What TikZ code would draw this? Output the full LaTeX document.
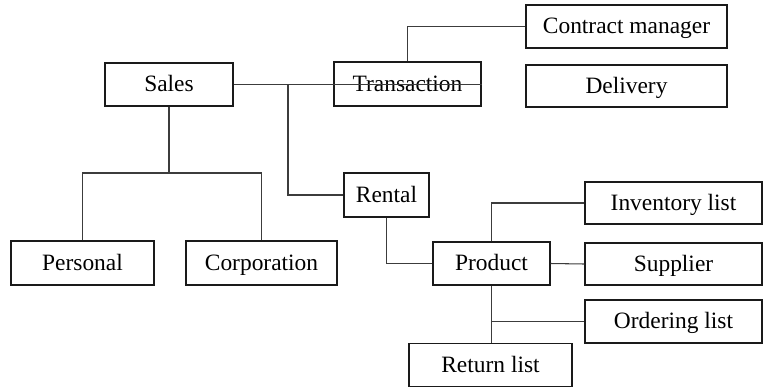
\documentclass[tikz,border=0pt]{standalone}
\usepackage{fontspec}
\setmainfont{Liberation Serif}
\usepackage{xcolor}
\usepackage{tikz}
\usetikzlibrary{positioning}
\definecolor{boxline}{HTML}{1A1A1A}
\definecolor{linkgray}{HTML}{3C3C3C}
\tikzset{
  entity/.style={rectangle,draw=boxline,line width=0.9pt,fill=white,align=center,minimum height=43*0.03cm,inner sep=0pt,text height=15pt,text depth=3pt,font=\fontsize{20}{24}\selectfont},
  wd/.style={minimum width=#1*0.03cm},
  link/.style={draw=linkgray,line width=0.9pt}
}
\begin{document}
\begin{tikzpicture}[x=0.03cm,y=-0.03cm]
\useasboundingbox (0,0) rectangle (763,387);
\node[entity,wd=128] (sales) at (169,84.5) {Sales};
\node[entity,wd=151,minimum height=44*0.03cm] (corporation) at (261.5,263) {Corporation};
\node[entity,wd=143,minimum height=44*0.03cm] (personal) at (82.5,263) {Personal};
\node[entity,wd=201] (contract) at (626.5,26.5) {Contract manager};
\node[entity,wd=201,minimum height=42*0.03cm] (delivery) at (626.5,86) {Delivery};
\node[entity,wd=85,minimum height=44*0.03cm] (rental) at (386.5,195) {Rental};
\node[entity,wd=117] (product) at (491.5,263.5) {Product};
\node[entity,wd=177,minimum height=42*0.03cm] (inventory) at (673.5,203) {Inventory list};
\node[entity,wd=177,minimum height=42*0.03cm] (supplier) at (673.5,264) {Supplier};
\node[entity,wd=177] (ordering) at (673.5,321.5) {Ordering list};
\node[entity,wd=163] (returnlist) at (490.5,365) {Return list};
\node[entity,wd=147,minimum height=44*0.03cm,fill=none] (transaction) at (407.5,84) {Transaction};
\coordinate (salesjoin) at (169,173);
\coordinate (rentaljoin) at (288,84.5);
\draw[link] (sales.east) -- (sales.east -| transaction.east);
\draw[link] (rentaljoin) |- (rental.west);
\draw[link] (transaction.north) |- (contract.west);
\draw[link] (sales.south) -- (salesjoin);
\draw[link] (personal.north) |- (salesjoin);
\draw[link] (corporation.north) |- (salesjoin);
\draw[link] (rental.south) |- (product.west);
\draw[link] (product.north) |- (inventory.west);
\draw[link] (product.east) -- (supplier.west);
\draw[link] (product.south) -- (product.south |- returnlist.north);
\draw[link] (product.south |- ordering.west) -- (ordering.west);
\end{tikzpicture}
\end{document}
